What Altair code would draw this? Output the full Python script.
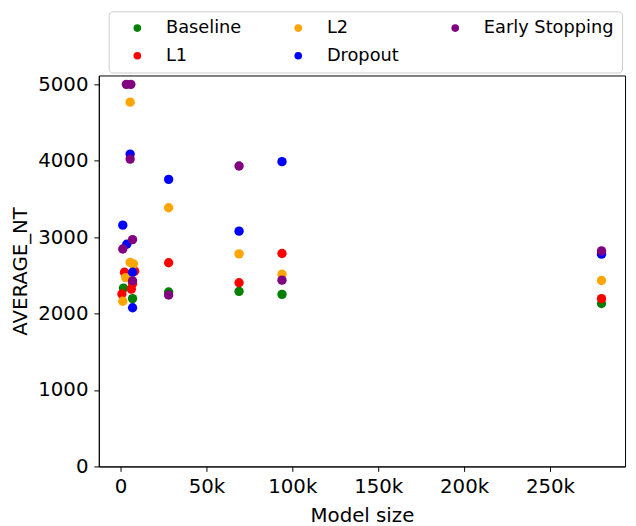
import altair as alt
import pandas as pd

series_order = ["Baseline", "L1", "L2", "Dropout", "Early Stopping"]
series_colors = ["green", "red", "orange", "blue", "purple"]

baseline_size = [1700, 7000, 28000, 69000, 94000, 280000]
baseline_nt = [2334, 2196, 2283, 2291, 2252, 2132]

l1_size = [2300, 8200, 7000, 6300, 800, 28000, 69000, 94000, 280000]
l1_nt = [2541, 2555, 2390, 2321, 2257, 2666, 2403, 2787, 2196]

l2_size = [5600, 5600, 7500, 3000, 1300, 28000, 69000, 94000, 280000]
l2_nt = [4767, 2670, 2650, 2471, 2161, 3385, 2782, 2515, 2433]

dropout_size = [5600, 1300, 3600, 7000, 7000, 28000, 69000, 94000, 280000]
dropout_nt = [4087, 3157, 2907, 2541, 2076, 3756, 3079, 3988, 2778]

es_size = [3400, 6000, 5600, 7000, 1300, 7000, 28000, 69000, 94000, 280000]
es_nt = [5000, 5000, 4022, 2968, 2846, 2429, 2244, 3932, 2438, 2821]

x_ticks = [0, 50000, 100000, 150000, 200000, 250000]
y_ticks = [0, 1000, 2000, 3000, 4000, 5000]

rows = []
for name, xs, ys in [
    ("Baseline", baseline_size, baseline_nt),
    ("L1", l1_size, l1_nt),
    ("L2", l2_size, l2_nt),
    ("Dropout", dropout_size, dropout_nt),
    ("Early Stopping", es_size, es_nt),
]:
    for xv, yv in zip(xs, ys):
        rows.append({"method": name, "size": xv, "nt": yv})
df = pd.DataFrame(rows)

FONT = "DejaVu Sans"

chart = (
    alt.Chart(df)
    .mark_point(filled=True, size=90, opacity=1, shape="circle")
    .encode(
        x=alt.X(
            "size:Q",
            title="Model size",
            scale=alt.Scale(domain=[-12640, 293700], nice=False, zero=False),
            axis=alt.Axis(values=x_ticks, grid=False, tickSize=5,
                          labelExpr="datum.value == 0 ? '0' : (datum.value / 1000) + 'k'",
                          labelPadding=5, titlePadding=10),
        ),
        y=alt.Y(
            "nt:Q",
            title="AVERAGE_NT",
            scale=alt.Scale(domain=[0, 5116], nice=False, zero=False),
            axis=alt.Axis(values=y_ticks, format="d", grid=False, tickSize=5,
                          labelPadding=6, titlePadding=7),
        ),
        color=alt.Color(
            "method:N",
            scale=alt.Scale(domain=series_order, range=series_colors),
            legend=alt.Legend(
                title=None,
                orient="none",
                legendX=10,
                legendY=-65,
                columns=3,
                fillColor="white",
                strokeColor="#cccccc",
                cornerRadius=4,
                padding=8,
                labelFontSize=18,
                labelFont=FONT,
                labelColor="black",
                symbolSize=60,
                symbolType="circle",
                symbolStrokeWidth=0,
                symbolOpacity=1,
                columnPadding=36,
                rowPadding=10,
                labelOffset=20,
                symbolOffset=12,
            ),
        ),
    )
    .properties(
        width=533,
        height=396,
        autosize=alt.AutoSizeParams(type="none"),
        padding={"left": 92, "top": 65, "right": 3, "bottom": 58},
    )
    .configure_view(stroke="black", strokeWidth=1)
    .configure_axis(
        labelFont=FONT,
        titleFont=FONT,
        labelFontSize=20,
        titleFontSize=20,
        titleFontWeight="normal",
        labelColor="black",
        titleColor="black",
        domainColor="black",
        tickColor="black",
    )
)

chart.save("out.html", embed_options={"renderer": "svg", "actions": False})
